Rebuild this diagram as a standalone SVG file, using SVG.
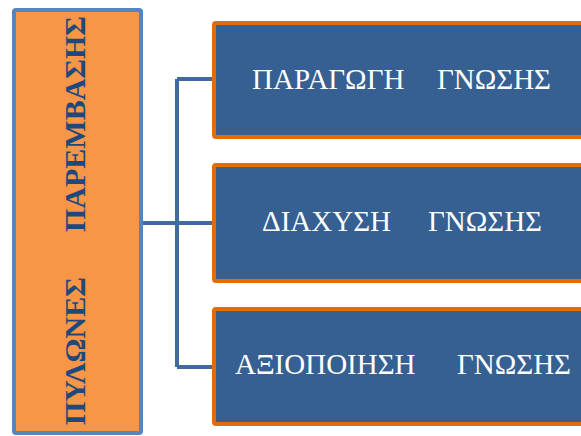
<svg xmlns="http://www.w3.org/2000/svg" width="581" height="436" viewBox="0 0 581 436">
<style>
.rbox{fill:#366092;stroke:#E36C0A;stroke-width:4}
.rt{font-family:"Liberation Serif",serif;font-size:29px;fill:#FFFFFF}
.lt{font-family:"Liberation Serif",serif;font-size:30px;font-weight:bold;fill:#1F497D}
.conn{stroke:#3F6B9E;stroke-width:4;fill:none}
</style>
<rect width="581" height="436" fill="#FFFFFF"/>
<g id="pillars">
<rect x="14" y="10" width="127" height="423" rx="2" fill="#F79646" stroke="#5585C0" stroke-width="4"/>
<g transform="translate(85,425) rotate(-90)">
<text class="lt" x="0" y="0">ΠΥΛΩΝΕΣ</text>
<text class="lt" x="193" y="0">ΠΑΡΕΜΒΑΣΗΣ</text>
</g>
</g>
<g id="connectors">
<path class="conn" d="M143,223 H212 M177,79 V367 M177,79 H212 M177,367 H212"/>
</g>
<g id="production">
<rect class="rbox" x="214" y="23" width="380" height="114" rx="2"/>
<text class="rt" x="252" y="89">ΠΑΡΑΓΩΓΗ</text>
<text class="rt" x="437" y="89">ΓΝΩΣΗΣ</text>
</g>
<g id="diffusion">
<rect class="rbox" x="214" y="165" width="380" height="116" rx="2"/>
<text class="rt" x="262" y="231">ΔΙΑΧΥΣΗ</text>
<text class="rt" x="428" y="231">ΓΝΩΣΗΣ</text>
</g>
<g id="exploitation">
<rect class="rbox" x="214" y="309" width="380" height="115" rx="2"/>
<text class="rt" x="235" y="374">ΑΞΙΟΠΟΙΗΣΗ</text>
<text class="rt" x="457" y="374">ΓΝΩΣΗΣ</text>
</g>
</svg>
